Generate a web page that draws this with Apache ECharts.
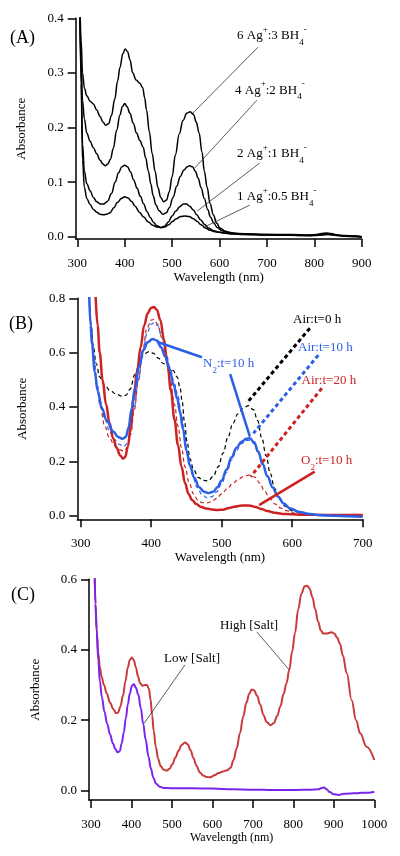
<!DOCTYPE html>
<html><head><meta charset="utf-8">
<script src="https://cdn.jsdelivr.net/npm/echarts@6/dist/echarts.min.js"></script>
<style>html,body{margin:0;padding:0;background:#fff}#c{width:400px;height:856px}</style>
</head><body><div id="c"></div>
<script>
// ---------- Panel A data (wavelength nm, absorbance) ----------
const a63 = [[305,0.45],[308,0.36],[311,0.30],[315,0.272],[320,0.258],[327,0.248],[334,0.243],[341,0.232],[348,0.22],[354,0.21],[360,0.204],[366,0.207],[372,0.222],[379,0.252],[385,0.285],[390,0.31],[396,0.335],[401,0.344],[406,0.339],[411,0.324],[417,0.3],[424,0.287],[432,0.281],[438,0.273],[442,0.255],[446,0.232],[452,0.192],[458,0.152],[464,0.12],[470,0.09],[476,0.072],[482,0.064],[488,0.067],[494,0.082],[500,0.11],[507,0.15],[515,0.188],[523,0.213],[531,0.226],[538,0.229],[545,0.224],[551,0.21],[557,0.19],[563,0.155],[568,0.12],[574,0.09],[580,0.061],[587,0.04],[594,0.025],[601,0.016],[612,0.01],[625,0.007],[650,0.005],[700,0.004],[750,0.004],[790,0.003],[805,0.004],[815,0.006],[825,0.007],[835,0.006],[848,0.003],[870,0.001],[900,0.0]];
const a42 = [[305,0.45],[308,0.32],[311,0.25],[315,0.215],[320,0.19],[327,0.175],[334,0.163],[341,0.152],[348,0.14],[354,0.133],[359,0.13],[364,0.133],[370,0.142],[376,0.162],[383,0.195],[390,0.223],[395,0.238],[400,0.244],[405,0.238],[411,0.226],[418,0.208],[425,0.19],[432,0.176],[439,0.164],[444,0.145],[450,0.12],[455,0.097],[460,0.075],[466,0.058],[472,0.048],[481,0.041],[488,0.044],[494,0.053],[502,0.072],[510,0.093],[517,0.11],[525,0.122],[532,0.128],[537,0.13],[543,0.128],[549,0.12],[555,0.107],[561,0.09],[568,0.07],[575,0.05],[581,0.036],[588,0.025],[595,0.017],[605,0.011],[618,0.008],[640,0.006],[700,0.004],[790,0.002],[805,0.003],[820,0.005],[835,0.004],[850,0.002],[900,0.0]];
const a21 = [[305,0.45],[308,0.3],[311,0.17],[315,0.12],[320,0.097],[327,0.084],[334,0.072],[341,0.064],[348,0.06],[356,0.06],[364,0.065],[372,0.079],[380,0.1],[387,0.117],[394,0.128],[400,0.131],[406,0.128],[412,0.119],[419,0.104],[426,0.089],[433,0.074],[440,0.06],[447,0.046],[454,0.035],[461,0.026],[468,0.02],[476,0.017],[484,0.019],[492,0.027],[500,0.038],[508,0.047],[516,0.055],[524,0.06],[530,0.06],[537,0.056],[545,0.049],[552,0.04],[560,0.031],[568,0.023],[577,0.016],[587,0.011],[600,0.008],[620,0.006],[650,0.004],[700,0.003],[790,0.002],[810,0.003],[825,0.005],[840,0.004],[855,0.002],[900,0.0]];
const a105 = [[305,0.45],[308,0.28],[311,0.14],[315,0.09],[320,0.07],[327,0.059],[334,0.05],[341,0.045],[348,0.041],[355,0.04],[362,0.041],[369,0.044],[377,0.053],[385,0.063],[393,0.07],[400,0.073],[407,0.071],[414,0.065],[422,0.056],[431,0.045],[440,0.036],[450,0.027],[459,0.021],[468,0.018],[477,0.0165],[485,0.018],[493,0.022],[501,0.028],[509,0.033],[518,0.037],[527,0.038],[536,0.037],[545,0.033],[553,0.028],[561,0.022],[570,0.016],[580,0.012],[592,0.009],[608,0.007],[630,0.005],[670,0.004],[750,0.003],[800,0.002],[815,0.003],[830,0.004],[845,0.003],[860,0.001],[900,0.0]];

// ---------- Panel B data ----------
const bAir0 = [[312,0.82],[315,0.7],[318,0.62],[322,0.56],[327,0.51],[334,0.48],[342,0.46],[350,0.448],[358,0.44],[364,0.443],[370,0.465],[377,0.52],[384,0.57],[390,0.595],[397,0.604],[403,0.598],[410,0.58],[417,0.56],[424,0.548],[431,0.535],[437,0.51],[441,0.47],[444,0.42],[447,0.35],[451,0.27],[455,0.21],[460,0.17],[467,0.14],[474,0.13],[481,0.128],[488,0.145],[495,0.18],[502,0.23],[509,0.29],[516,0.34],[523,0.375],[530,0.395],[538,0.405],[545,0.39],[551,0.35],[557,0.285],[563,0.22],[569,0.155],[575,0.1],[582,0.062],[590,0.035],[600,0.018],[615,0.008],[640,0.004],[670,0.003],[700,0.004]];
const bN2 = [[312,0.82],[314,0.7],[316,0.63],[320,0.53],[324,0.46],[330,0.395],[337,0.35],[346,0.31],[353,0.29],[359,0.283],[364,0.29],[368,0.325],[372,0.39],[377,0.47],[383,0.55],[389,0.61],[395,0.638],[402,0.65],[408,0.645],[414,0.62],[420,0.585],[426,0.54],[432,0.48],[437,0.43],[441,0.38],[445,0.32],[450,0.24],[455,0.185],[461,0.14],[468,0.105],[475,0.088],[481,0.083],[488,0.088],[494,0.105],[500,0.13],[507,0.17],[514,0.215],[521,0.25],[528,0.272],[535,0.283],[540,0.285],[546,0.27],[552,0.235],[558,0.19],[565,0.145],[572,0.105],[580,0.07],[588,0.045],[597,0.027],[610,0.014],[625,0.006],[640,0.002],[660,0.0],[680,-0.002],[700,-0.004]];
const bAir10 = [[312,0.81],[315,0.69],[319,0.58],[323,0.49],[328,0.42],[334,0.36],[341,0.31],[348,0.28],[355,0.262],[361,0.255],[366,0.265],[371,0.31],[376,0.4],[382,0.5],[388,0.6],[394,0.67],[400,0.705],[404,0.71],[409,0.7],[415,0.66],[421,0.6],[427,0.54],[433,0.485],[438,0.44],[443,0.37],[447,0.3],[452,0.22],[458,0.155],[465,0.105],[472,0.078],[479,0.066],[486,0.07],[493,0.088],[500,0.118],[507,0.16],[514,0.205],[521,0.24],[528,0.265],[535,0.277],[540,0.278],[546,0.265],[552,0.23],[558,0.19],[565,0.145],[572,0.105],[580,0.07],[588,0.045],[597,0.027],[610,0.013],[625,0.006],[650,0.002],[700,0.0]];
const bAir20 = [[312,0.81],[315,0.68],[319,0.56],[323,0.47],[328,0.4],[334,0.33],[341,0.285],[348,0.258],[355,0.243],[361,0.238],[366,0.25],[371,0.3],[376,0.39],[382,0.5],[388,0.61],[394,0.69],[400,0.72],[404,0.722],[409,0.705],[415,0.655],[421,0.58],[427,0.5],[433,0.41],[438,0.33],[443,0.25],[448,0.18],[454,0.12],[460,0.08],[466,0.058],[472,0.048],[479,0.047],[486,0.052],[493,0.064],[500,0.08],[508,0.1],[516,0.12],[524,0.135],[532,0.146],[540,0.15],[547,0.142],[554,0.12],[561,0.09],[568,0.065],[576,0.043],[584,0.028],[593,0.018],[605,0.009],[620,0.005],[650,0.002],[700,0.0]];
const bO2 = [[321,0.82],[324,0.7],[327,0.6],[331,0.5],[336,0.41],[341,0.34],[346,0.285],[351,0.25],[356,0.222],[360,0.21],[363,0.215],[367,0.255],[371,0.33],[375,0.43],[380,0.53],[385,0.62],[390,0.7],[395,0.745],[400,0.765],[404,0.768],[408,0.758],[413,0.72],[418,0.65],[423,0.56],[428,0.46],[433,0.355],[438,0.26],[443,0.18],[448,0.12],[453,0.08],[458,0.058],[464,0.043],[470,0.033],[478,0.027],[486,0.023],[494,0.021],[502,0.022],[510,0.028],[518,0.033],[526,0.037],[534,0.038],[541,0.037],[548,0.032],[556,0.025],[565,0.017],[575,0.011],[590,0.006],[610,0.004],[650,0.003],[700,0.003]];

// ---------- Panel C data ----------
const cLow = [[309,0.62],[311,0.53],[314,0.46],[318,0.37],[322,0.31],[327,0.265],[333,0.225],[340,0.19],[347,0.16],[354,0.135],[360,0.118],[366,0.109],[371,0.112],[376,0.135],[381,0.165],[386,0.205],[391,0.245],[396,0.276],[401,0.298],[406,0.302],[411,0.292],[417,0.272],[423,0.235],[429,0.19],[435,0.145],[442,0.097],[448,0.063],[454,0.037],[461,0.02],[470,0.011],[480,0.008],[500,0.007],[550,0.007],[600,0.006],[650,0.004],[700,0.003],[750,0.002],[800,0.002],[840,0.003],[862,0.004],[870,0.008],[876,0.009],[882,0.004],[890,-0.004],[900,-0.01],[912,-0.012],[925,-0.009],[940,-0.008],[955,-0.007],[970,-0.006],[985,-0.006],[1000,-0.003]];
const cHigh = [[309,0.62],[311,0.53],[314,0.45],[318,0.39],[322,0.35],[326,0.324],[332,0.3],[339,0.276],[347,0.25],[355,0.232],[362,0.22],[367,0.222],[373,0.24],[379,0.27],[385,0.31],[391,0.35],[396,0.372],[401,0.378],[406,0.37],[411,0.35],[416,0.325],[421,0.306],[427,0.298],[433,0.3],[438,0.3],[443,0.29],[447,0.26],[451,0.215],[455,0.17],[460,0.125],[466,0.09],[472,0.07],[479,0.06],[487,0.057],[494,0.062],[501,0.075],[509,0.095],[516,0.113],[524,0.13],[532,0.137],[539,0.132],[546,0.115],[553,0.093],[561,0.07],[569,0.052],[577,0.043],[586,0.039],[595,0.038],[605,0.044],[615,0.05],[625,0.054],[636,0.058],[645,0.065],[652,0.087],[660,0.12],[668,0.163],[676,0.21],[684,0.25],[691,0.275],[697,0.287],[703,0.285],[710,0.27],[718,0.245],[726,0.215],[734,0.195],[744,0.186],[752,0.192],[760,0.212],[768,0.24],[776,0.275],[783,0.305],[790,0.343],[797,0.395],[804,0.447],[812,0.515],[820,0.56],[828,0.58],[834,0.582],[840,0.574],[847,0.55],[854,0.515],[861,0.48],[868,0.455],[874,0.446],[882,0.446],[889,0.448],[895,0.45],[901,0.446],[908,0.435],[915,0.418],[922,0.385],[932,0.333],[944,0.257],[955,0.2],[965,0.163],[981,0.125],[1000,0.087]];

// ---------- Annotation leader lines (data coords) ----------
const leadA = [[[681,0.347],[544,0.2265]],[[679,0.25],[548,0.126]],[[685,0.135],[553,0.047]],[[664,0.058],[569,0.018]]];
const leadBAir0 = [[625,0.69],[535.5,0.414]];
const leadBAir10 = [[637,0.591],[545,0.303]];
const leadBAir20 = [[642,0.469],[541,0.1435]];
const leadBN2a = [[408,0.640],[472,0.583]];
const leadBN2b = [[512,0.521],[540,0.291]];
const leadBO2 = [[632,0.162],[553,0.039]];
const leadCHigh = [[709.5,0.451],[790,0.3426]];
const leadCLow = [[532,0.357],[431,0.191]];

// ---------- Tick values ----------
const xTicksA = [300,400,500,600,700,800,900];
const xTicksB = [300,400,500,600,700];
const xTicksC = [300,400,500,600,700,800,900,1000];
const yTicksA = [0,0.1,0.2,0.3,0.4];
const yTicksB = [0,0.2,0.4,0.6,0.8];
const yTicksC = [0,0.2,0.4,0.6];

const FONT = "'Liberation Serif','Times New Roman',serif";
const BLUE = '#2a5fe6', RED = '#cc2222', CRED = '#c93a3c', PURPLE = '#7a25ee';

function xAx(gi, min, max, ticks, nameGap, nameSize) {
  return {type:'value', gridIndex:gi, min:min, max:max,
    axisLine:{show:true, onZero:false, lineStyle:{color:'#000', width:1.5}},
    axisTick:{show:true, length:8, customValues:ticks, lineStyle:{color:'#000', width:1.5}},
    axisLabel:{customValues:ticks, margin:18, fontFamily:FONT, fontSize:13, color:'#000',
      formatter:function(v){return String(Math.round(v));}},
    splitLine:{show:false},
    name:'Wavelength (nm)', nameLocation:'middle', nameGap:nameGap,
    nameTextStyle:{fontFamily:FONT, fontSize:nameSize, color:'#000'}};
}
function yAx(gi, min, max, ticks, nameGap) {
  return {type:'value', gridIndex:gi, min:min, max:max,
    axisLine:{show:true, onZero:false, lineStyle:{color:'#000', width:1.5}},
    axisTick:{show:true, length:8, customValues:ticks, lineStyle:{color:'#000', width:1.5}},
    axisLabel:{customValues:ticks, margin:12, fontFamily:FONT, fontSize:13, color:'#000',
      formatter:function(v){return Number(v).toFixed(1);}},
    splitLine:{show:false},
    name:'Absorbance', nameLocation:'middle', nameGap:nameGap, nameRotate:90,
    nameTextStyle:{fontFamily:FONT, fontSize:13, color:'#000'}};
}
function curve(gi, data, color, width, type) {
  return {type:'line', xAxisIndex:gi, yAxisIndex:gi, data:data, showSymbol:false, symbol:'none',
    smooth:0.4, smoothMonotone:'x', clip:true, silent:true,
    lineStyle:{color:color, width:width, type:type||'solid'}};
}
function lead(gi, data, color, width, type) {
  return {type:'line', xAxisIndex:gi, yAxisIndex:gi, data:data, showSymbol:false, symbol:'none',
    silent:true, z:5, lineStyle:{color:color, width:width, type:type||'solid'}};
}

const rich = {
  n:{fontFamily:FONT, fontSize:13, lineHeight:22, verticalAlign:'middle'},
  sp:{fontFamily:FONT, fontSize:9, lineHeight:9, verticalAlign:'top'},
  sb:{fontFamily:FONT, fontSize:9, lineHeight:9, verticalAlign:'bottom'}
};
function txt(x, y, text, color, size) {
  return {type:'text', x:x, y:y, silent:true, z:10,
    style:{text:text, fill:color, font:(size||13)+'px '+FONT, rich:rich, verticalAlign:'middle', align:'left'}};
}

const option = {
  animation:false,
  backgroundColor:'#fff',
  grid:[
    {left:75.7, right:38.3, top:18.3, bottom:617},
    {left:77.3, right:37.3, top:298.3, bottom:336.7},
    {left:89, right:25.7, top:579.3, bottom:56}
  ],
  xAxis:[
    xAx(0, 296.6, 900, xTicksA, 31, 13),
    xAx(1, 295.2, 700, xTicksB, 32, 13),
    xAx(2, 295.06, 1000, xTicksC, 32, 12)
  ],
  yAxis:[
    yAx(0, -0.0042, 0.4, yTicksA, 48),
    yAx(1, -0.0132, 0.8, yTicksB, 48),
    yAx(2, -0.0264, 0.6, yTicksC, 47)
  ],
  series:[
    curve(0, a63, '#000', 1.5), curve(0, a42, '#000', 1.5), curve(0, a21, '#000', 1.5), curve(0, a105, '#000', 1.5),
    lead(0, leadA[0], '#333', 0.8), lead(0, leadA[1], '#333', 0.8), lead(0, leadA[2], '#333', 0.8), lead(0, leadA[3], '#333', 0.8),
    curve(1, bAir0, '#000', 1.2, [4,3]),
    curve(1, bAir20, RED, 1.2, [4,3]),
    curve(1, bAir10, BLUE, 1.2, [4,3]),
    curve(1, bO2, RED, 2.5),
    curve(1, bN2, BLUE, 2.5),
    lead(1, leadBAir0, '#000', 3, [4,3]),
    lead(1, leadBAir10, BLUE, 3, [4,3]),
    lead(1, leadBAir20, RED, 3, [4,3]),
    lead(1, leadBN2a, BLUE, 2.5), lead(1, leadBN2b, BLUE, 2.5),
    lead(1, leadBO2, RED, 2.5),
    curve(2, cHigh, CRED, 2), curve(2, cLow, PURPLE, 2),
    lead(2, leadCHigh, '#333', 0.8), lead(2, leadCLow, '#333', 0.8)
  ],
  graphic:[
    {type:'text', x:10, y:38, silent:true, style:{text:'(A)', fill:'#000', font:'18px '+FONT, verticalAlign:'middle'}},
    {type:'text', x:9, y:324, silent:true, style:{text:'(B)', fill:'#000', font:'18px '+FONT, verticalAlign:'middle'}},
    {type:'text', x:11, y:595, silent:true, style:{text:'(C)', fill:'#000', font:'18px '+FONT, verticalAlign:'middle'}},
    txt(237, 36, '{n|6 Ag}{sp|+}{n|:3 BH}{sb|4}{sp|-}', '#000'),
    txt(235, 90.5, '{n|4 Ag}{sp|+}{n|:2 BH}{sb|4}{sp|-}', '#000'),
    txt(237, 154, '{n|2 Ag}{sp|+}{n|:1 BH}{sb|4}{sp|-}', '#000'),
    txt(237, 196.7, '{n|1 Ag}{sp|+}{n|:0.5 BH}{sb|4}{sp|-}', '#000'),
    txt(293, 320, '{n|Air:t=0 h}', '#000'),
    txt(298, 347.5, '{n|Air:t=10 h}', BLUE),
    txt(203, 364, '{n|N}{sb|2}{n|:t=10 h}', BLUE),
    txt(301.5, 381, '{n|Air:t=20 h}', RED),
    txt(301, 461, '{n|O}{sb|2}{n|:t=10 h}', RED),
    txt(220, 626, '{n|High [Salt]}', '#000'),
    txt(164, 659, '{n|Low [Salt]}', '#000')
  ]
};
const chart = echarts.init(document.getElementById('c'), null, {renderer:'canvas'});
chart.setOption(option);
</script></body></html>
